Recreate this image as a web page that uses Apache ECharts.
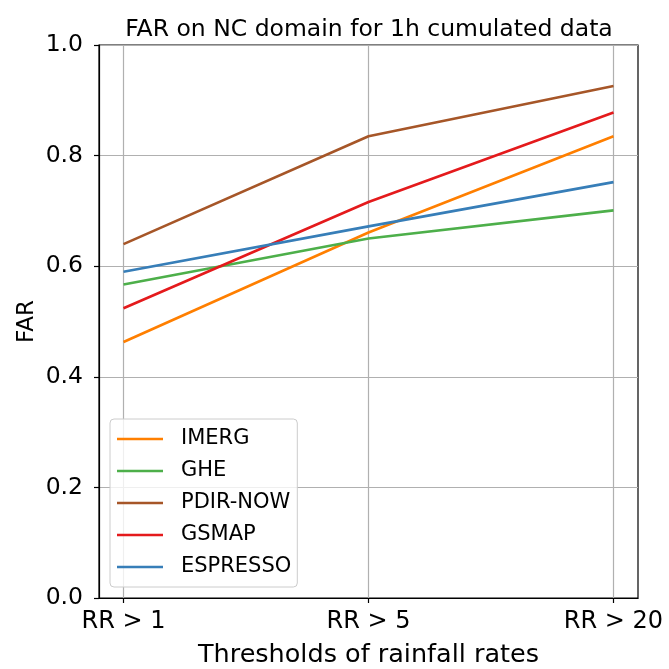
<!DOCTYPE html>
<html>
<head>
<meta charset="utf-8">
<script src="https://cdn.jsdelivr.net/npm/echarts@6/dist/echarts.min.js"></script>
<style>html,body{margin:0;padding:0;background:#fff;}#c{width:669px;height:669px;}</style>
</head>
<body>
<div id="c"></div>
<script>
const categories = ['RR > 1', 'RR > 5', 'RR > 20'];
const seriesNames = ['IMERG', 'GHE', 'PDIR-NOW', 'GSMAP', 'ESPRESSO'];
const imerg = [0.463, 0.661, 0.835];
const ghe = [0.567, 0.650, 0.701];
const pdirNow = [0.640, 0.835, 0.926];
const gsmap = [0.524, 0.716, 0.878];
const espresso = [0.590, 0.672, 0.752];
const yTicks = [0, 0.2, 0.4, 0.6, 0.8, 1.0];
const colors = ['#ff7f00', '#4daf4a', '#a65628', '#e41a1c', '#377eb8'];

const allValues = [imerg, ghe, pdirNow, gsmap, espresso];
const font = 'DejaVu Sans';
const chart = echarts.init(document.getElementById('c'), null, {renderer: 'canvas'});
chart.setOption({
  animation: false,
  backgroundColor: '#fff',
  title: {
    text: 'FAR on NC domain for 1h cumulated data',
    left: 364, top: 13, textAlign: 'center',
    textStyle: {fontFamily: font, fontSize: 23.5, fontWeight: 'normal', color: '#000'}
  },
  grid: {left: 99, top: 45, right: 31, bottom: 71, containLabel: false, outerBoundsMode: 'none', show: true, borderColor: '#000', borderWidth: 1.2, backgroundColor: 'transparent'},
  legend: {
    orient: 'vertical', left: 110, top: 419,
    data: seriesNames,
    icon: 'rect', itemWidth: 46, itemHeight: 2.6, itemGap: 10,
    padding: [9, 6, 9, 7],
    backgroundColor: 'rgba(255,255,255,0.8)', borderColor: '#cccccc', borderWidth: 1, borderRadius: 4,
    textStyle: {fontFamily: font, fontSize: 21, color: '#000', lineHeight: 22, padding: [0, 0, 0, 13]}
  },
  xAxis: {
    type: 'value', min: -0.1, max: 2.1,
    name: 'Thresholds of rainfall rates', nameLocation: 'middle', nameGap: 44, nameMoveOverlap: false,
    nameTextStyle: {fontFamily: font, fontSize: 25.5, color: '#000'},
    axisLine: {show: true, onZero: false, lineStyle: {color: '#000', width: 1.2}},
    axisTick: {show: true, inside: false, length: 5, customValues: [0, 1, 2], lineStyle: {color: '#000', width: 1.2}},
    axisLabel: {customValues: [0, 1, 2], formatter: v => categories[Math.round(v)], fontFamily: font, fontSize: 24, color: '#000', margin: 12},
    splitLine: {show: true, lineStyle: {color: '#b0b0b0', width: 1.2}}
  },
  yAxis: {
    type: 'value', min: 0, max: 1, interval: 0.2,
    name: 'FAR', nameLocation: 'middle', nameGap: 60, nameRotate: 90, nameMoveOverlap: false,
    nameTextStyle: {fontFamily: font, fontSize: 23, color: '#000'},
    axisLine: {show: true, onZero: false, lineStyle: {color: '#000', width: 1.2}},
    axisTick: {show: true, inside: false, length: 5, lineStyle: {color: '#000', width: 1.2}},
    axisLabel: {formatter: v => v.toFixed(1), fontFamily: font, fontSize: 23.5, color: '#000', margin: 16},
    splitLine: {show: true, lineStyle: {color: '#b0b0b0', width: 1.2}}
  },
  series: seriesNames.map((n, i) => ({
    name: n, type: 'line', showSymbol: false, symbol: 'none',
    color: colors[i],
    lineStyle: {width: 2.6, color: colors[i]},
    data: allValues[i].map((v, j) => [j, v])
  }))
});
</script>
</body>
</html>
